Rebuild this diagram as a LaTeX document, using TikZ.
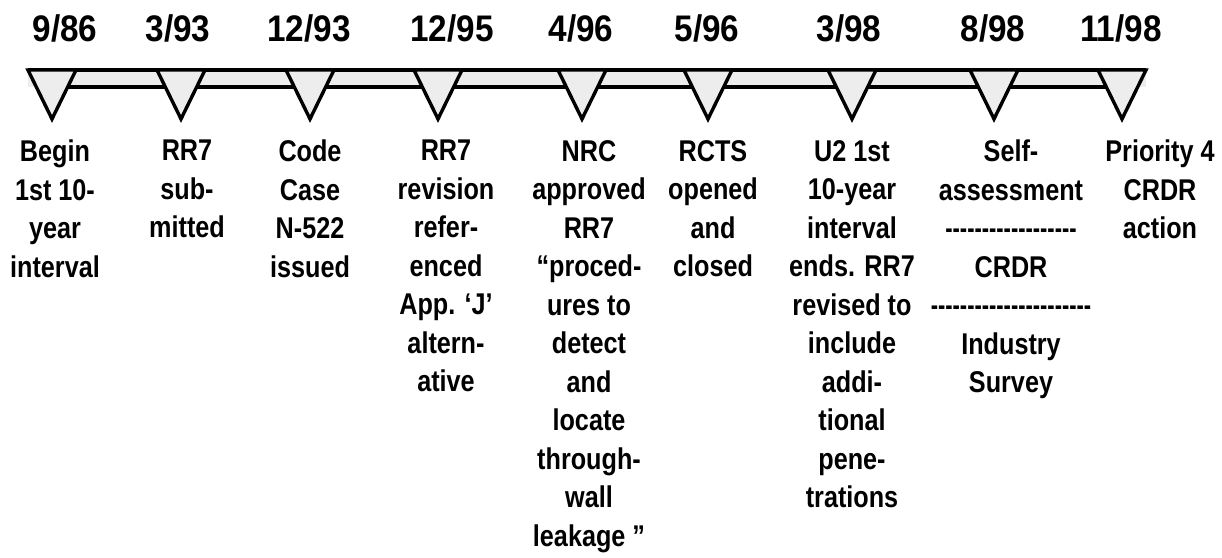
\documentclass[tikz,border=0pt]{standalone}
\usepackage{fontspec}
\setmainfont{Liberation Sans}
\newfontfamily\lblfont[FakeStretch=0.84]{Liberation Sans Bold}
\newfontfamily\datefont[FakeStretch=0.9]{Liberation Sans Bold}
\newfontfamily\dshfont[FakeStretch=0.73]{Liberation Sans Bold}
\begin{document}
\begin{tikzpicture}[x=1pt,y=-1pt,
  datelbl/.style={font=\datefont\fontsize{37}{40}\selectfont, anchor=base, inner sep=0pt},
  evlbl/.style={font=\lblfont\fontsize{30}{38.5}\selectfont, align=center, anchor=north, inner sep=0pt},
  barline/.style={line width=3.4pt, line cap=butt},
  tri/.style={line width=3.4pt, line join=miter, fill=gray!14, draw=black}]
\useasboundingbox (0,0) rectangle (1222,557);
% bar
\fill[gray!14] (28,70) rectangle (1146,87);
\draw[barline] (52,87) -- (1122,87);
\draw[barline] (28,70) -- (1146,70);
% triangles
\foreach \c in {52,181,310,438,582,708,852,994,1122}{
  \draw[tri] (\c-24,70) -- (\c+24,70) -- (\c,119) -- cycle;
}
% dates
\node[datelbl] (d1) at (65,41) {9/86};
\node[datelbl] (d2) at (178,41) {3/93};
\node[datelbl] (d3) at (309,41) {12/93};
\node[datelbl] (d4) at (452,41) {12/95};
\node[datelbl] (d5) at (581,41) {4/96};
\node[datelbl] (d6) at (707,41) {5/96};
\node[datelbl] (d7) at (849,41) {3/98};
\node[datelbl] (d8) at (993,41) {8/98};
\node[datelbl] (d9) at (1121,41) {11/98};
% events
\node[evlbl] (e1) at (55,140) {Begin\\1st 10-\\year\\interval};
\node[evlbl] (e2) at (187,140) {RR7\\sub-\\mitted};
\node[evlbl] (e3) at (310,140) {Code\\Case\\N-522\\issued};
\node[evlbl] (e4) at (446,140) {RR7\\revision\\refer-\\enced\\App. ‘J’\\altern-\\ative};
\node[evlbl] (e5) at (589,140) {NRC\\approved\\RR7\\“proced-\\ures to\\detect\\and\\locate\\through-\\wall\\leakage ”};
\node[evlbl] (e6) at (713,140) {RCTS\\opened\\and\\closed};
\node[evlbl] (e7) at (852,140) {U2 1st\\10-year\\interval\\ends. RR7\\revised to\\include\\addi-\\tional\\pene-\\trations};
\node[evlbl] (e8) at (1011,140) {Self-\\assessment\\{\dshfont ------------------}\\CRDR\\{\dshfont ----------------------}\\Industry\\Survey};
\node[evlbl] (e9) at (1160,140) {Priority 4\\CRDR\\action};
\end{tikzpicture}
\end{document}
